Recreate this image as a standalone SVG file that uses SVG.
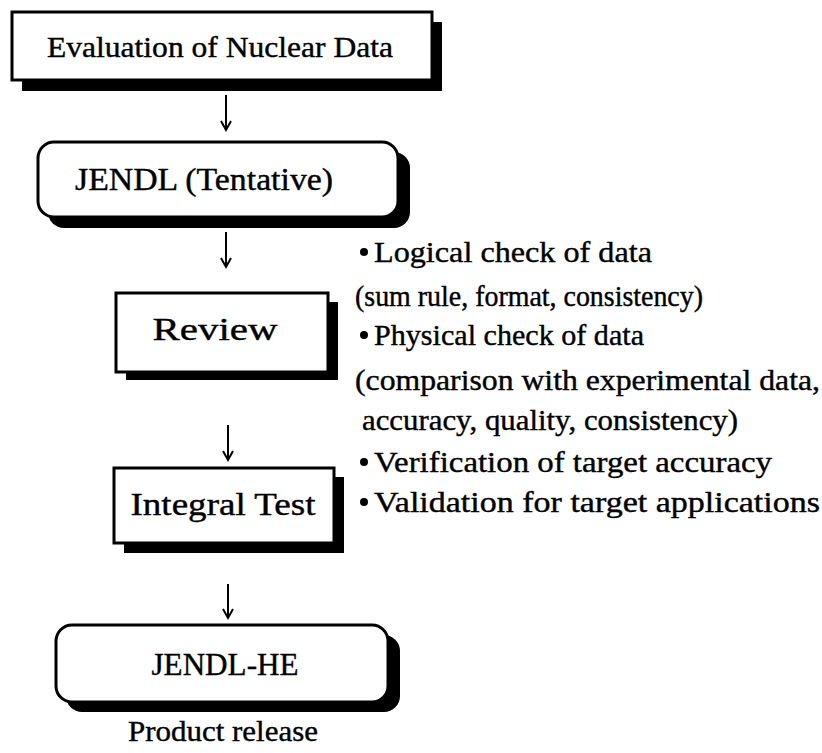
<svg xmlns="http://www.w3.org/2000/svg" width="822" height="753" viewBox="0 0 822 753">
<style>
.box{fill:#fff;stroke:#000;stroke-width:3}
.sh{fill:#000}
.t{font-family:"Liberation Serif","Times New Roman",serif;fill:#000;stroke:#000;stroke-width:0.4}
.big{font-size:32px}
.side{font-size:30px}
.arr{fill:none;stroke:#000;stroke-width:2}
</style>
<rect width="822" height="753" fill="#fff"/>
<g id="n1">
<rect class="sh" x="22" y="22" width="420" height="69"/>
<rect class="box" x="12" y="12" width="420" height="68"/>
<text class="t" x="220" y="57" font-size="30" text-anchor="middle" textLength="346" lengthAdjust="spacingAndGlyphs">Evaluation of Nuclear Data</text>
</g>
<g id="n2">
<rect class="sh" x="48" y="152" width="362" height="76" rx="16"/>
<rect class="box" x="38" y="142" width="360" height="75" rx="16"/>
<text class="t big" x="204" y="190" text-anchor="middle" textLength="258" lengthAdjust="spacingAndGlyphs">JENDL (Tentative)</text>
</g>
<g id="n3">
<rect class="sh" x="126" y="302" width="212" height="78"/>
<rect class="box" x="116" y="293" width="212" height="79"/>
<text class="t big" x="215" y="340" text-anchor="middle" textLength="125" lengthAdjust="spacingAndGlyphs">Review</text>
</g>
<g id="n4">
<rect class="sh" x="124" y="477" width="220" height="76"/>
<rect class="box" x="114" y="468" width="220" height="75"/>
<text class="t big" x="223" y="515" text-anchor="middle" textLength="185" lengthAdjust="spacingAndGlyphs">Integral Test</text>
</g>
<g id="n5">
<rect class="sh" x="66" y="635" width="334" height="77" rx="16"/>
<rect class="box" x="56" y="625" width="332" height="77" rx="16"/>
<text class="t big" x="225" y="675" text-anchor="middle" textLength="147" lengthAdjust="spacingAndGlyphs">JENDL-HE</text>
</g>
<g id="label-release">
<text class="t side" x="223" y="741" text-anchor="middle" textLength="190" lengthAdjust="spacingAndGlyphs">Product release</text>
</g>
<g id="notes-review">
<circle cx="364" cy="252" r="4"/>
<text class="t side" x="374" y="262" textLength="278" lengthAdjust="spacingAndGlyphs">Logical check of data</text>
<text class="t side" x="355" y="306" textLength="348" lengthAdjust="spacingAndGlyphs">(sum rule, format, consistency)</text>
<circle cx="364" cy="335" r="4"/>
<text class="t side" x="374" y="345" textLength="270" lengthAdjust="spacingAndGlyphs">Physical check of data</text>
<text class="t side" x="355" y="390" textLength="465" lengthAdjust="spacingAndGlyphs">(comparison with experimental data,</text>
<text class="t side" x="362" y="430" textLength="376" lengthAdjust="spacingAndGlyphs">accuracy, quality, consistency)</text>
</g>
<g id="notes-integral">
<circle cx="364" cy="462" r="4"/>
<text class="t side" x="374" y="472" textLength="398" lengthAdjust="spacingAndGlyphs">Verification of target accuracy</text>
<circle cx="364" cy="502" r="4"/>
<text class="t side" x="374" y="512" textLength="446" lengthAdjust="spacingAndGlyphs">Validation for target applications</text>
</g>
<g id="connectors">
<path class="arr" d="M226 95V130M221 121L226 130L231 121"/>
<path class="arr" d="M226 232V267M221 258L226 267L231 258"/>
<path class="arr" d="M228 425V460M223 451L228 460L233 451"/>
<path class="arr" d="M228 584V618M223 609L228 618L233 609"/>
</g>
</svg>
